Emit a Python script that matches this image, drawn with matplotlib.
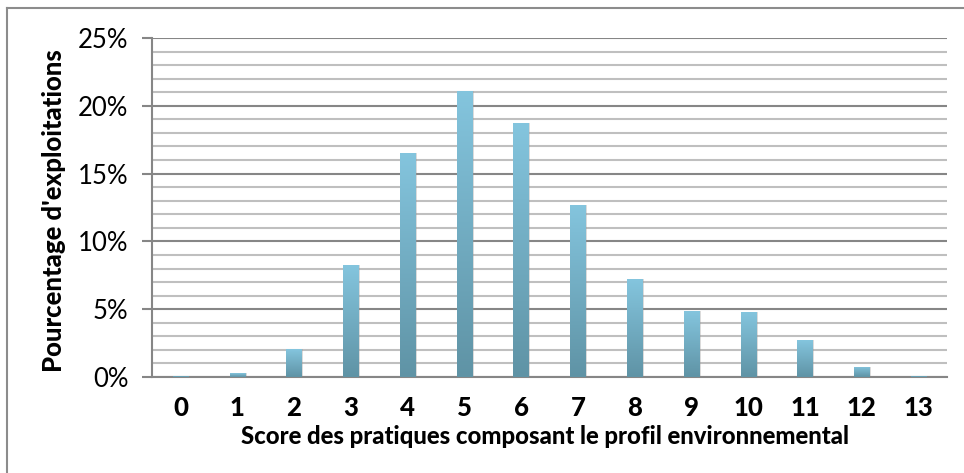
import matplotlib
matplotlib.use("Agg")
import matplotlib.pyplot as plt
import numpy as np
from matplotlib.patches import Rectangle
from matplotlib.lines import Line2D
from matplotlib.colors import LinearSegmentedColormap

categories = ["0", "1", "2", "3", "4", "5", "6", "7", "8", "9", "10", "11", "12", "13"]
values = [0.1, 0.27, 2.05, 8.25, 16.55, 21.1, 18.7, 12.7, 7.2, 4.85, 4.78, 2.72, 0.74, 0.1]
yticks = [0, 5, 10, 15, 20, 25]
ytick_labels = ["0%", "5%", "10%", "15%", "20%", "25%"]

plt.rcParams['font.family'] = ['Lato', 'DejaVu Sans']

fig = plt.figure(figsize=(9.64, 4.73), dpi=100)
ax = fig.add_axes([152/964, 1-377/473, (947-152)/964, (377-38)/473])

x = np.arange(len(categories))
bars = ax.bar(x, values, width=0.27, color='none', zorder=3)

cmap = LinearSegmentedColormap.from_list("g", ["#5F93A5", "#84C5DE"])
grad = np.linspace(0, 1, 256).reshape(-1, 1)
for b, v in zip(bars, values):
    x0 = b.get_x()
    w = b.get_width()
    sh = Rectangle((x0 + 0.03, 0), w, v, facecolor='#999999', alpha=0.35,
                   edgecolor='none', zorder=2.5)
    ax.add_patch(sh)
    im = ax.imshow(grad, cmap=cmap, aspect='auto', origin='lower',
                   extent=[x0, x0 + w, 0, v], zorder=3)
    im.set_clip_path(b)

ax.set_xlim(-0.5, 13.5)
ax.set_ylim(0, 25)

ax.set_yticks(yticks)
ax.set_yticklabels(ytick_labels, fontsize=18.5)
ax.set_yticks(np.arange(0, 26, 1), minor=True)
ax.set_xticks(x)
ax.set_xticklabels(categories, fontsize=18.5, fontweight='black')

ax.grid(True, which='major', axis='y', color='#868686', linewidth=1.5, zorder=0)
ax.grid(True, which='minor', axis='y', color='#BFBFBF', linewidth=1.5, zorder=0)
ax.set_axisbelow(True)

for s in ['top', 'right']:
    ax.spines[s].set_visible(False)
ax.spines['left'].set_color('#868686')
ax.spines['left'].set_linewidth(1.5)
ax.spines['bottom'].set_color('#868686')
ax.spines['bottom'].set_linewidth(1.5)

ax.tick_params(axis='y', which='major', length=7, width=1.5, color='#868686', pad=10)
ax.tick_params(axis='y', which='minor', length=0)
ax.tick_params(axis='x', length=0, pad=14)

ax.set_xlabel("Score des pratiques composant le profil environnemental",
              fontsize=17.2, fontweight='black')
ax.set_ylabel("Pourcentage d'exploitations", fontsize=18.5, fontweight='black')
ax.xaxis.set_label_coords(0.494, -0.142)
ax.yaxis.set_label_coords(-0.108, 0.49)

# outer border (top and left)
fig.add_artist(Line2D([7/964, 1], [1-8/473, 1-8/473], transform=fig.transFigure,
                      color='#8C8C8C', linewidth=1.5))
fig.add_artist(Line2D([7/964, 7/964], [0, 1-8/473], transform=fig.transFigure,
                      color='#8C8C8C', linewidth=1.5))

fig.savefig("out.png", dpi=100)
